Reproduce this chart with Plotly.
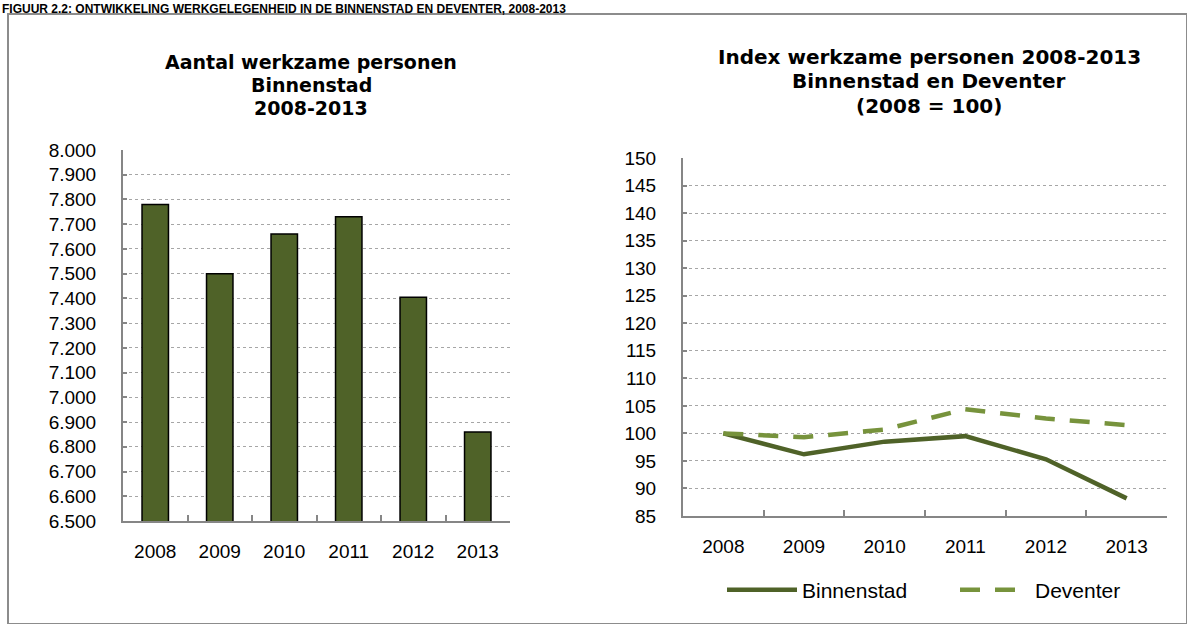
import plotly.graph_objects as go

years = ["2008", "2009", "2010", "2011", "2012", "2013"]
werkzame_binnenstad = [7780, 7500, 7660, 7730, 7405, 6860]
index_binnenstad = [100, 96.2, 98.5, 99.5, 95.3, 88.2]
index_deventer = [100, 99.3, 100.7, 104.4, 102.7, 101.5]

fig_title = "FIGUUR 2.2: ONTWIKKELING WERKGELEGENHEID IN DE BINNENSTAD EN DEVENTER, 2008-2013"
left_title = ["Aantal werkzame personen", "Binnenstad", "2008-2013"]
right_title = ["Index werkzame personen 2008-2013", "Binnenstad en Deventer", "(2008 = 100)"]

W, H = 1187, 624
FONT = "Liberation Sans, Arial, sans-serif"
TFONT = "DejaVu Sans, Liberation Sans, Arial, sans-serif"
DARK = "#4F6228"
LIGHT = "#77933C"
AXIS = "#868686"
GRID = "#A6A6A6"

def px_x(x):
    return x / W

def px_y(y):
    return 1 - y / H

fig = go.Figure()

fig.add_trace(go.Bar(
    x=years, y=werkzame_binnenstad, xaxis="x", yaxis="y",
    marker=dict(color=DARK, line=dict(color="black", width=1.5)),
    showlegend=False, hoverinfo="x+y",
))

fig.add_trace(go.Scatter(
    x=years, y=index_binnenstad, xaxis="x2", yaxis="y2", mode="lines",
    name="Binnenstad", line=dict(color=DARK, width=4.5),
))
fig.add_trace(go.Scatter(
    x=years, y=index_deventer, xaxis="x2", yaxis="y2", mode="lines",
    name="Deventer", line=dict(color=LIGHT, width=4.5, dash="20px,15px"),
))

tickfont = dict(family=FONT, size=19, color="black")

common_x = dict(type="category", showline=True, linecolor=AXIS, linewidth=2,
                ticks="inside", ticklen=6, tickcolor=AXIS, tickwidth=1.5,
                tickson="boundaries", showgrid=False, tickfont=tickfont,
                ticklabelstandoff=12, fixedrange=True, range=[-0.5, 5.5])
common_y = dict(showline=True, linecolor=AXIS, linewidth=2, ticks="inside",
                ticklen=4, tickcolor=AXIS, tickwidth=1.5, showgrid=True,
                gridcolor=GRID, griddash="dot", gridwidth=1, tickfont=tickfont,
                zeroline=False, ticklabelstandoff=21, fixedrange=True)

fig.update_layout(
    width=W, height=H,
    margin=dict(l=0, r=0, t=0, b=0, autoexpand=False),
    paper_bgcolor="white", plot_bgcolor="white",
    separators=",.",
    bargap=0.59,
    font=dict(family=FONT, color="black"),
    xaxis=dict(domain=[px_x(123), px_x(510)], anchor="y", **common_x),
    yaxis=dict(domain=[px_y(521), px_y(150)], anchor="x", range=[6500, 8000],
               dtick=100, tickformat=",d", **common_y),
    xaxis2=dict(domain=[px_x(683), px_x(1167)], anchor="y2", **common_x),
    yaxis2=dict(domain=[px_y(516), px_y(158)], anchor="x2", range=[85, 150],
                dtick=5, **common_y),
    legend=dict(orientation="h", x=px_x(722), xanchor="left",
                y=px_y(590), yanchor="middle",
                font=dict(family=FONT, size=21, color="black"),
                itemwidth=70, entrywidth=148, bgcolor="rgba(0,0,0,0)"),
    showlegend=True,
)

annotations = [
    dict(text="<b>" + fig_title + "</b>", xref="paper", yref="paper",
         x=0, xanchor="left", y=1, yanchor="top", showarrow=False,
         font=dict(family=FONT, size=12, color="black")),
]
for i, t in enumerate(left_title):
    annotations.append(dict(text="<b>" + t + "</b>", xref="paper", yref="paper",
                            x=px_x(311), y=px_y(62 + 23 * i), xanchor="center",
                            yanchor="middle", showarrow=False, borderpad=0,
                            font=dict(family=TFONT, size=19, color="black")))
for i, t in enumerate(right_title):
    annotations.append(dict(text="<b>" + t + "</b>", xref="paper", yref="paper",
                            x=px_x(929), y=px_y(57 + 24.5 * i), xanchor="center",
                            yanchor="middle", showarrow=False, borderpad=0,
                            font=dict(family=TFONT, size=20, color="black")))
fig.update_layout(annotations=annotations)

fig.add_shape(type="rect", xref="paper", yref="paper",
              x0=px_x(8), x1=1.0, y0=0, y1=px_y(14),
              line=dict(color="#8C8C8C", width=2), fillcolor="rgba(0,0,0,0)",
              layer="below")

fig.write_html("out.html", config=dict(displayModeBar=False),
               post_script="document.body.style.margin='0';document.body.style.overflow='hidden';")
